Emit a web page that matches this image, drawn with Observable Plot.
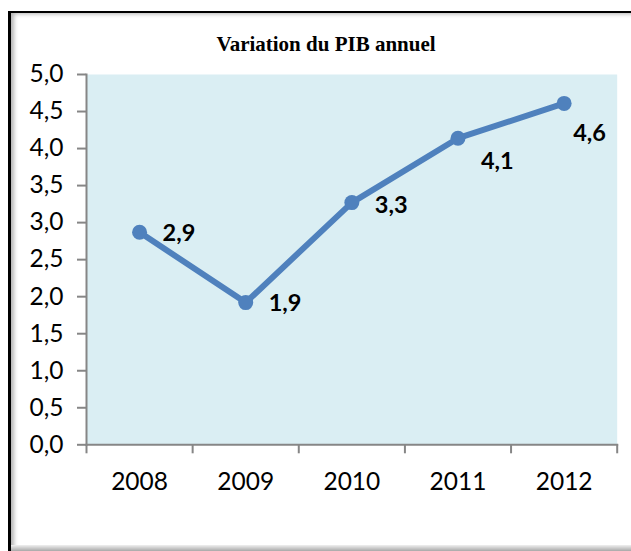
<!DOCTYPE html>
<html>
<head>
<meta charset="utf-8">
<script src="https://cdn.jsdelivr.net/npm/d3@7"></script>
<script src="https://cdn.jsdelivr.net/npm/@observablehq/plot@0.6"></script>
<style>
html, body { margin: 0; padding: 0; background: #fff; overflow: hidden; }
#wrap { position: relative; width: 631px; height: 551px; overflow: hidden; }
#wrap svg { position: absolute; left: 0; top: 0; }
#border {
  position: absolute; left: 8px; top: 11px; width: 660px; height: 534px;
  border-left: 3px solid #000; border-top: 2px solid #000;
  box-shadow: inset 5px 3px 4px -2px rgba(0,0,0,0.3);
}
#bottomband {
  position: absolute; left: 8px; top: 545px; width: 640px; height: 6px;
  background: linear-gradient(#f0f0f0, #a8a8a8);
  border-left: 3px solid #000;
}
#title {
  position: absolute; top: 34px; left: 326px; transform: translateX(-50%);
  font-family: "Liberation Serif", "Times New Roman", serif; font-weight: bold;
  font-size: 21px; line-height: 1; white-space: nowrap; color: #000;
}
</style>
</head>
<body>
<div id="wrap">
  <div id="border"></div>
  <div id="bottomband"></div>
  <div id="title">Variation du PIB annuel</div>
</div>
<script>
// ---- data ----
const years = [2008, 2009, 2010, 2011, 2012];
const gdpGrowth = [2.87, 1.92, 3.27, 4.14, 4.61];
const valueLabels = ["2,9", "1,9", "3,3", "4,1", "4,6"];
const yTicks = [0, 0.5, 1, 1.5, 2, 2.5, 3, 3.5, 4, 4.5, 5];
const yTickLabels = ["0,0", "0,5", "1,0", "1,5", "2,0", "2,5", "3,0", "3,5", "4,0", "4,5", "5,0"];

const data = years.map((year, i) => ({ year, value: gdpGrowth[i], label: valueLabels[i] }));
const bounds = [...years.map(y => y - 0.5), years[years.length - 1] + 0.5];

// per-label offsets (style)
const labelOffsets = { 2008: [23, 1], 2009: [23, 1], 2010: [23, 3], 2011: [23, 23], 2012: [9, 30] };

const lineColor = "#4F81BD";
const axisGray = "#868686";

const plot = Plot.plot({
  width: 631,
  height: 551,
  marginLeft: 86,
  marginRight: 14.3,
  marginTop: 74,
  marginBottom: 106.7,
  style: { fontFamily: "Lato, 'Open Sans', sans-serif", background: "transparent", color: "#000", overflow: "visible" },
  x: { type: "linear", domain: [bounds[0], bounds[bounds.length - 1]] },
  y: { domain: [0, 5] },
  marks: [
    Plot.frame({ fill: "#DAEEF3", stroke: "none" }),
    Plot.axisY({
      ticks: yTicks,
      tickFormat: d => yTickLabels[yTicks.indexOf(d)],
      tickSize: 9, tickPadding: 14, fontSize: 24.5,
      stroke: axisGray, strokeWidth: 2, fill: "#000", label: null
    }),
    Plot.axisX({
      ticks: bounds, tickFormat: () => "", tickSize: 9,
      stroke: axisGray, strokeWidth: 2, label: null
    }),
    Plot.axisX({
      ticks: years, tickFormat: d => String(d), tickSize: 0, tickPadding: 28,
      fontSize: 24.5, fill: "#000", label: null
    }),
    Plot.frame({ anchor: "left", stroke: axisGray, strokeWidth: 2 }),
    Plot.frame({ anchor: "bottom", stroke: axisGray, strokeWidth: 2 }),
    Plot.line(data, { x: "year", y: "value", stroke: lineColor, strokeWidth: 6, strokeLinejoin: "round" }),
    Plot.dot(data, { x: "year", y: "value", r: 7.5, fill: lineColor, stroke: "none" }),
    ...years.map(yr => Plot.text(data, {
      filter: d => d.year === yr,
      x: "year", y: "value", text: "label",
      textAnchor: "start", dx: labelOffsets[yr][0], dy: labelOffsets[yr][1],
      fontSize: 23.5, fontWeight: "bold", fill: "#000"
    }))
  ]
});

document.getElementById("wrap").insertBefore(plot, document.getElementById("title"));
</script>
</body>
</html>
